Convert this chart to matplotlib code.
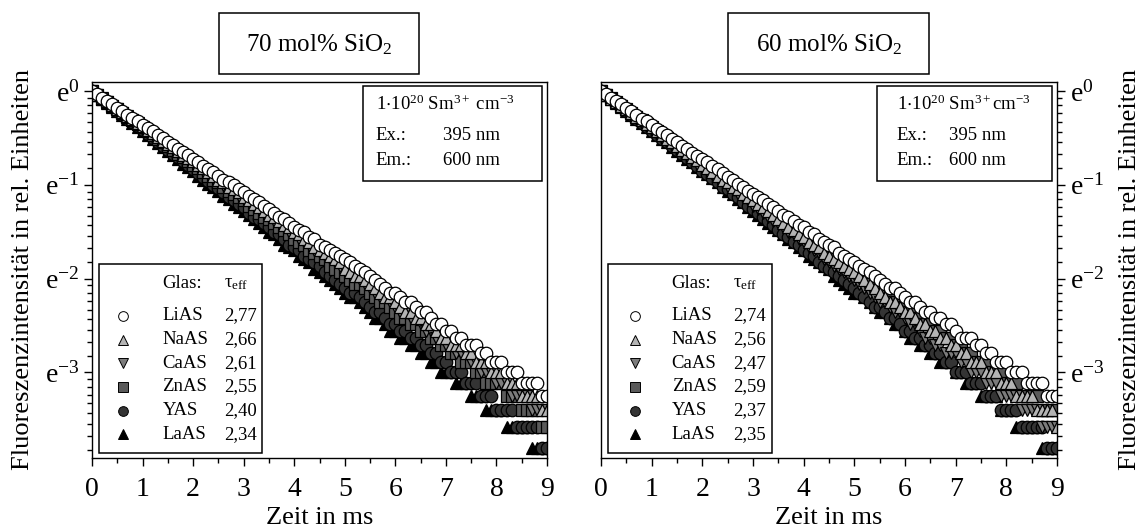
import numpy as np
import matplotlib
matplotlib.use('Agg')
import matplotlib.pyplot as plt
from matplotlib.patches import Rectangle
from matplotlib.ticker import FixedLocator, MultipleLocator, NullFormatter

plt.rcParams['font.family'] = ['Liberation Serif', 'DejaVu Serif']
plt.rcParams['mathtext.fontset'] = 'custom'
plt.rcParams['mathtext.rm'] = 'Liberation Serif'
plt.rcParams['mathtext.it'] = 'Liberation Serif:italic'
plt.rcParams['mathtext.default'] = 'regular'

glasses = ['LiAS', 'NaAS', 'CaAS', 'ZnAS', 'YAS', 'LaAS']
tau_70 = [2.77, 2.66, 2.61, 2.55, 2.40, 2.34]
tau_60 = [2.74, 2.56, 2.47, 2.59, 2.37, 2.35]

# decay curves, photon counts every 0.1 ms, normalised to the start count
time_ms = np.linspace(0, 9, 91)
n0 = 180

counts_70 = [
    [180, 174, 167, 162, 156, 150, 145, 140, 135, 130, 125, 121, 117, 113, 109, 105, 101, 97, 94, 91,
     87, 84, 81, 78, 76, 73, 70, 68, 66, 63, 61, 59, 57, 55, 53, 51, 49, 47, 46, 44,
     42, 41, 40, 38, 37, 35, 34, 33, 32, 31, 30, 29, 28, 27, 26, 25, 24, 23, 22, 21,
     21, 20, 19, 19, 18, 17, 17, 16, 15, 15, 14, 14, 13, 13, 12, 12, 12, 11, 11, 10,
     10, 10, 9, 9, 9, 8, 8, 8, 8, 7, 7],
    [180, 173, 167, 161, 155, 149, 144, 138, 133, 128, 124, 119, 115, 110, 106, 102, 99, 95, 91, 88,
     85, 82, 79, 76, 73, 70, 68, 65, 63, 61, 58, 56, 54, 52, 50, 48, 47, 45, 43, 42,
     40, 39, 37, 36, 34, 33, 32, 31, 30, 29, 27, 26, 25, 25, 24, 23, 22, 21, 20, 20,
     19, 18, 17, 17, 16, 16, 15, 15, 14, 13, 13, 12, 12, 12, 11, 11, 10, 10, 10, 9,
     9, 9, 8, 8, 8, 7, 7, 7, 7, 6, 6],
    [180, 173, 167, 160, 154, 149, 143, 138, 132, 128, 123, 118, 114, 109, 105, 101, 98, 94, 90, 87,
     84, 81, 77, 75, 72, 69, 66, 64, 62, 59, 57, 55, 53, 51, 49, 47, 45, 44, 42, 40,
     39, 37, 36, 35, 33, 32, 31, 30, 29, 28, 27, 26, 25, 24, 23, 22, 21, 20, 20, 19,
     18, 17, 17, 16, 16, 15, 14, 14, 13, 13, 12, 12, 11, 11, 11, 10, 10, 9, 9, 9,
     8, 8, 8, 7, 7, 7, 7, 6, 6, 6, 6],
    [180, 173, 166, 160, 154, 148, 142, 137, 132, 126, 122, 117, 112, 108, 104, 100, 96, 92, 89, 85,
     82, 79, 76, 73, 70, 68, 65, 62, 60, 58, 56, 53, 51, 49, 47, 46, 44, 42, 41, 39,
     37, 36, 35, 33, 32, 31, 30, 28, 27, 26, 25, 24, 23, 23, 22, 21, 20, 19, 19, 18,
     17, 16, 16, 15, 15, 14, 14, 13, 13, 12, 12, 11, 11, 10, 10, 10, 9, 9, 8, 8,
     8, 8, 7, 7, 7, 6, 6, 6, 6, 5, 5],
    [180, 173, 166, 159, 152, 146, 140, 134, 129, 124, 119, 114, 109, 105, 100, 96, 92, 89, 85, 82,
     78, 75, 72, 69, 66, 64, 61, 58, 56, 54, 52, 49, 47, 46, 44, 42, 40, 39, 37, 35,
     34, 33, 31, 30, 29, 28, 26, 25, 24, 23, 22, 21, 21, 20, 19, 18, 17, 17, 16, 15,
     15, 14, 14, 13, 13, 12, 12, 11, 11, 10, 10, 9, 9, 9, 8, 8, 8, 7, 7, 7,
     6, 6, 6, 6, 5, 5, 5, 5, 5, 4, 4],
    [180, 172, 165, 158, 152, 145, 139, 133, 128, 123, 117, 112, 108, 103, 99, 95, 91, 87, 83, 80,
     77, 73, 70, 67, 65, 62, 59, 57, 54, 52, 50, 48, 46, 44, 42, 40, 39, 37, 35, 34,
     33, 31, 30, 29, 27, 26, 25, 24, 23, 22, 21, 20, 20, 19, 18, 17, 16, 16, 15, 14,
     14, 13, 13, 12, 12, 11, 11, 10, 10, 9, 9, 9, 8, 8, 8, 7, 7, 7, 6, 6,
     6, 6, 5, 5, 5, 5, 5, 4, 4, 4, 4],
]

counts_60 = [
    [180, 174, 167, 161, 156, 150, 145, 139, 134, 130, 125, 120, 116, 112, 108, 104, 100, 97, 93, 90,
     87, 84, 81, 78, 75, 72, 70, 67, 65, 62, 60, 58, 56, 54, 52, 50, 48, 47, 45, 43,
     42, 40, 39, 37, 36, 35, 34, 32, 31, 30, 29, 28, 27, 26, 25, 24, 23, 22, 22, 21,
     20, 19, 19, 18, 17, 17, 16, 16, 15, 15, 14, 13, 13, 13, 12, 12, 11, 11, 10, 10,
     10, 9, 9, 9, 8, 8, 8, 8, 7, 7, 7],
    [180, 173, 166, 160, 154, 148, 142, 137, 132, 127, 122, 117, 113, 108, 104, 100, 96, 93, 89, 86,
     82, 79, 76, 73, 70, 68, 65, 63, 60, 58, 56, 54, 52, 50, 48, 46, 44, 42, 41, 39,
     38, 36, 35, 34, 32, 31, 30, 29, 28, 27, 26, 25, 24, 23, 22, 21, 20, 19, 19, 18,
     17, 17, 16, 15, 15, 14, 14, 13, 13, 12, 12, 11, 11, 10, 10, 10, 9, 9, 9, 8,
     8, 8, 7, 7, 7, 7, 6, 6, 6, 6, 5],
    [180, 173, 166, 159, 153, 147, 141, 136, 130, 125, 120, 115, 111, 106, 102, 98, 94, 90, 87, 83,
     80, 77, 74, 71, 68, 65, 63, 60, 58, 56, 53, 51, 49, 47, 45, 44, 42, 40, 39, 37,
     36, 34, 33, 32, 30, 29, 28, 27, 26, 25, 24, 23, 22, 21, 20, 19, 19, 18, 17, 17,
     16, 15, 15, 14, 13, 13, 12, 12, 11, 11, 11, 10, 10, 9, 9, 9, 8, 8, 8, 7,
     7, 7, 7, 6, 6, 6, 6, 5, 5, 5, 5],
    [180, 173, 167, 160, 154, 148, 143, 137, 132, 127, 122, 118, 113, 109, 105, 101, 97, 93, 90, 86,
     83, 80, 77, 74, 71, 69, 66, 63, 61, 59, 57, 54, 52, 50, 48, 47, 45, 43, 42, 40,
     38, 37, 36, 34, 33, 32, 30, 29, 28, 27, 26, 25, 24, 23, 22, 22, 21, 20, 19, 18,
     18, 17, 16, 16, 15, 15, 14, 14, 13, 13, 12, 12, 11, 11, 10, 10, 10, 9, 9, 9,
     8, 8, 8, 7, 7, 7, 7, 6, 6, 6, 6],
    [180, 173, 165, 159, 152, 146, 140, 134, 128, 123, 118, 113, 108, 104, 100, 96, 92, 88, 84, 81,
     77, 74, 71, 68, 65, 63, 60, 58, 55, 53, 51, 49, 47, 45, 43, 41, 39, 38, 36, 35,
     33, 32, 31, 29, 28, 27, 26, 25, 24, 23, 22, 21, 20, 19, 18, 18, 17, 16, 16, 15,
     14, 14, 13, 13, 12, 12, 11, 11, 10, 10, 9, 9, 9, 8, 8, 8, 7, 7, 7, 6,
     6, 6, 6, 5, 5, 5, 5, 5, 4, 4, 4],
    [180, 173, 165, 158, 152, 146, 139, 134, 128, 123, 118, 113, 108, 104, 99, 95, 91, 87, 84, 80,
     77, 74, 71, 68, 65, 62, 60, 57, 55, 52, 50, 48, 46, 44, 42, 41, 39, 37, 36, 34,
     33, 31, 30, 29, 28, 27, 25, 24, 23, 22, 21, 21, 20, 19, 18, 17, 17, 16, 15, 15,
     14, 13, 13, 12, 12, 11, 11, 10, 10, 10, 9, 9, 8, 8, 8, 7, 7, 7, 7, 6,
     6, 6, 5, 5, 5, 5, 5, 4, 4, 4, 4],
]

markers = ['o', '^', 'v', 's', 'o', '^']
faces = ['white', '#b4b4b4', '#7c7c7c', '#5a5a5a', '#343434', 'black']


def draw_panel(ax, counts, taus, title, conc, right):
    # LiAS ends up on top, LaAS at the bottom
    for i in reversed(range(len(glasses))):
        ax.plot(time_ms, np.array(counts[i]) / n0, ls='none', marker=markers[i], ms=9,
                mfc=faces[i], mec='black', mew=0.9)
    ax.set_yscale('log', base=np.e)
    ax.set_xlim(0, 9)
    ax.set_ylim(0.02, 1.1)
    major = [np.exp(-k) for k in range(4)]
    minor = []
    for k in range(5):
        hi, lo = np.exp(-k), np.exp(-k - 1)
        minor += [hi - j * (hi - lo) / 9 for j in range(1, 9)]
    ax.yaxis.set_major_locator(FixedLocator(major))
    ax.yaxis.set_minor_locator(FixedLocator(minor))
    ax.yaxis.set_minor_formatter(NullFormatter())
    ax.set_yticklabels([r'e$^{%d}$' % -k if k else r'e$^{0}$' for k in range(4)])
    ax.xaxis.set_major_locator(MultipleLocator(1))
    ax.xaxis.set_minor_locator(MultipleLocator(0.5))
    ax.tick_params(which='both', direction='out', labelsize=20, width=1)
    ax.tick_params(which='major', length=6, pad=3)
    ax.tick_params(which='minor', length=3.5)
    ax.tick_params(axis='x', which='major', pad=8)
    for s in ax.spines.values():
        s.set_linewidth(1.0)
    ax.set_xlabel('Zeit in ms', fontsize=19, labelpad=3)
    ax.set_ylabel('Fluoreszenzintensität in rel. Einheiten', fontsize=19)
    if right:
        ax.yaxis.tick_right()
        ax.yaxis.set_label_position('right')
        ax.yaxis.set_label_coords(1.135, 0.5)
        box_x, box_w, tx1, tx2 = 0.6055, 0.3835, 0.6485, 0.763
        mk_x = 0.0746
    else:
        ax.yaxis.set_label_coords(-0.128, 0.5)
        box_x, box_w, tx1, tx2 = 0.5956, 0.393, 0.624, 0.771
        mk_x = 0.0688

    # title box above the frame
    ax.add_patch(Rectangle((0.279, 1.021), 0.44, 0.163, transform=ax.transAxes,
                           fill=False, lw=1.1, clip_on=False))
    ax.text(0.5, 1.10, title, transform=ax.transAxes, ha='center', va='center',
            fontsize=18)

    # measurement conditions
    ax.add_patch(Rectangle((box_x, 0.737), box_w, 0.252, transform=ax.transAxes,
                           facecolor='white', edgecolor='black', lw=1.1, zorder=5))
    ax.text(tx1, 0.941, conc, transform=ax.transAxes, va='center', fontsize=13.5, zorder=6)
    ax.text(tx1, 0.859, 'Ex.:', transform=ax.transAxes, va='center', fontsize=13.5, zorder=6)
    ax.text(tx2, 0.859, '395 nm', transform=ax.transAxes, va='center', fontsize=13.5, zorder=6)
    ax.text(tx1, 0.790, 'Em.:', transform=ax.transAxes, va='center', fontsize=13.5, zorder=6)
    ax.text(tx2, 0.790, '600 nm', transform=ax.transAxes, va='center', fontsize=13.5, zorder=6)

    # legend with lifetimes
    ax.add_patch(Rectangle((0.016, 0.013), 0.358, 0.503, transform=ax.transAxes,
                           facecolor='white', edgecolor='black', lw=1.1, zorder=5))
    ax.text(0.155, 0.465, 'Glas:', transform=ax.transAxes, va='center', fontsize=13.5, zorder=6)
    ax.text(0.290, 0.465, r'$\tau_{eff}$', transform=ax.transAxes, va='center',
            fontsize=13.5, zorder=6)
    for i, (name, tau) in enumerate(zip(glasses, taus)):
        y = 0.378 - i * 0.063
        ax.plot([mk_x], [y], transform=ax.transAxes, ls='none', marker=markers[i], ms=7,
                mfc=faces[i], mec='black', mew=0.7, zorder=6, clip_on=False)
        ax.text(0.155, y, name, transform=ax.transAxes, va='center', fontsize=13.5, zorder=6)
        ax.text(0.290, y, f'{tau:.2f}'.replace('.', ','), transform=ax.transAxes,
                va='center', fontsize=13.5, zorder=6)


fig = plt.figure(figsize=(11.42, 5.31), dpi=100)
ax1 = fig.add_axes([92 / 1142, 73 / 531, 455 / 1142, 376 / 531])
ax2 = fig.add_axes([601 / 1142, 73 / 531, 456 / 1142, 376 / 531])
draw_panel(ax1, counts_70, tau_70, '70 mol% SiO$_2$',
           r'1$\cdot$10$^{20}$ Sm$^{3+}$ cm$^{-3}$', False)
draw_panel(ax2, counts_60, tau_60, '60 mol% SiO$_2$',
           r'1$\cdot$10$^{20}$ Sm$^{3+}$cm$^{-3}$', True)
fig.savefig('out.png', dpi=100)
